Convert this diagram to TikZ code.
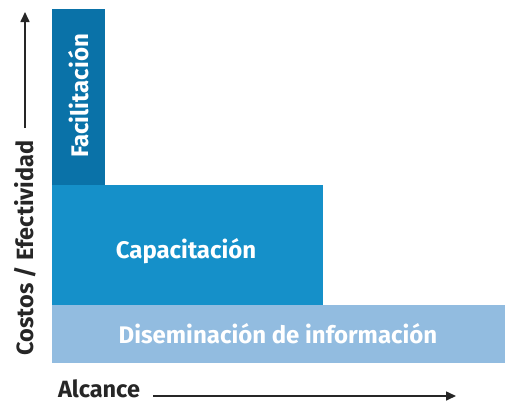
\documentclass[tikz,border=0pt]{standalone}
\usepackage{fontspec}
\setmainfont{Fira Sans}
\usetikzlibrary{arrows.meta}
\definecolor{darkblue}{HTML}{0A72A8}
\definecolor{midblue}{HTML}{1590C9}
\definecolor{lightblue}{HTML}{92BCE0}
\tikzset{
  barlabel/.style={text=white, font=\fontsize{24}{26}\selectfont\bfseries},
  axislabel/.style={text=black!85, inner sep=0pt, font=\fontsize{23.5}{26}\selectfont\bfseries},
  axisarrow/.style={line width=1.6pt, black!85, -{Triangle[length=10pt,width=9pt]}}
}
\begin{document}
\begin{tikzpicture}[x=1pt,y=-1pt]
			%%%%% START %%%%%
			\useasboundingbox (0, 0) rectangle (505, 402);
			
			\fill[darkblue] (52, 9) rectangle (105, 185);
			\fill[midblue] (52, 185) rectangle (323, 305);
			\fill[lightblue] (52, 305) rectangle (505, 363);
			
			\node[barlabel, rotate=90] (facil) at (79, 96) {Facilitación};
			\node[barlabel] (capac) at (186, 251) {Capacitación};
			\node[barlabel] (disem) at (278, 334) {Diseminación de información};
			
			%%%%% AXES %%%%%
			\node[axislabel, rotate=90, anchor=base] (costos) at (33, 248) {Costos / Efectividad};
			\coordinate (ybase) at (25, 128);
			\coordinate (ytip) at (25, 12);
			\draw[axisarrow] (ybase) -- (ytip);
			
			\node[axislabel, anchor=base] (alcance) at (99, 397) {Alcance};
			\coordinate (xbase) at (153, 396);
			\coordinate (xtip) at (456, 396);
			\draw[axisarrow] (xbase) -- (xtip);
			
			%%%%% END %%%%%
\end{tikzpicture}
\end{document}
